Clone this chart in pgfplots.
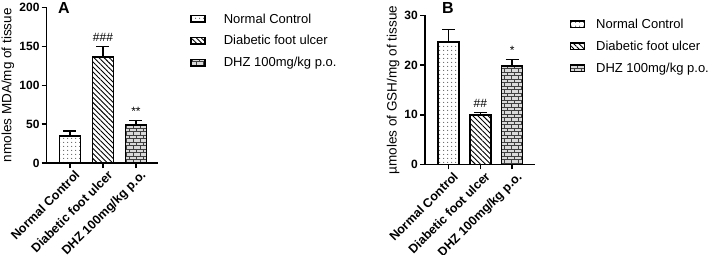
\documentclass[border=0pt]{standalone}
\usepackage{fontspec}
\setmainfont{Liberation Sans}
\usepackage{pgfplots}
\pgfplotsset{compat=1.18}
\usetikzlibrary{patterns,patterns.meta}

\pgfdeclarepatternformonly{smallbricks}{\pgfqpoint{-1pt}{-1pt}}{\pgfqpoint{8pt}{8pt}}{\pgfqpoint{7pt}{7pt}}{%
  \pgfsetlinewidth{0.9pt}%
  \pgfpathmoveto{\pgfqpoint{0pt}{0pt}}\pgfpathlineto{\pgfqpoint{7pt}{0pt}}%
  \pgfpathmoveto{\pgfqpoint{0pt}{3.5pt}}\pgfpathlineto{\pgfqpoint{7pt}{3.5pt}}%
  \pgfpathmoveto{\pgfqpoint{0pt}{0pt}}\pgfpathlineto{\pgfqpoint{0pt}{3.5pt}}%
  \pgfpathmoveto{\pgfqpoint{3.5pt}{3.5pt}}\pgfpathlineto{\pgfqpoint{3.5pt}{7pt}}%
  \pgfusepath{stroke}}

\pgfplotsset{
  common/.style={
    scale only axis,
    axis x line=bottom, axis y line=left,
    axis line style={line width=1.6pt,-},
    every tick/.style={line width=1.4pt,black},
    major tick length=5pt, tick align=outside,
    xtick={0,1,2},
    xticklabels={Normal Control,Diabetic foot ulcer,DHZ 100mg/kg p.o.},
    xticklabel style={xshift=4pt,yshift=0pt,rotate=45,anchor=north east,font=\bfseries\fontsize{12.5}{14}\selectfont,inner sep=1pt},
    yticklabel style={font=\bfseries\fontsize{12}{14}\selectfont,inner sep=2pt},
    /pgf/number format/assume math mode=true,
    ymin=0, clip=false,
    ybar, bar width=21pt,
    legend style={draw=none,fill=none,font=\fontsize{13}{15}\selectfont,anchor=north west,
      legend cell align=left,row sep=7pt,inner sep=0pt},
    legend image code/.code={\draw[##1,line width=1.3pt] (0pt,-3pt) rectangle (14pt,3.5pt);},
    error bars/y dir=plus, error bars/y explicit,
    error bars/error bar style={line width=1.3pt,black,solid},
    error bars/error mark options={rotate=90,line width=1.3pt,mark size=6.5pt,black},
    ylabel style={font=\fontsize{13.5}{15}\selectfont},
  },
  nc/.style={draw=black,line width=1.5pt,fill=white,bar shift=0pt,
    postaction={pattern={Dots[radius=0.6pt,distance=4pt]},pattern color=black!85}},
  dfu/.style={draw=black,line width=1.5pt,fill=white,bar shift=0pt,
    postaction={pattern={Lines[angle=-45,distance=3.6pt,line width=0.9pt]},pattern color=black}},
  dhz/.style={draw=black,line width=1.5pt,fill=gray!30,bar shift=0pt,
    postaction={pattern=smallbricks,pattern color=black!75}},
}

\begin{document}
\begin{tikzpicture}[x=1pt,y=1pt]
\useasboundingbox (0,0) rectangle (708,254);

% Panel A
\begin{axis}[common,
  at={(46.7pt,91pt)}, anchor=south west,
  width=111.3pt, height=155.5pt,
  xmin=-0.706, xmax=2.667, ymax=200,
  ytick={0,50,100,150,200},
  ylabel={nmoles MDA/mg of tissue},
  ylabel style={at={(axis description cs:-0.348,0.5)},anchor=center},
  legend style={at={(axis description cs:1.29,0.975)},
    /tikz/every odd column/.append style={column sep=16pt}},
]
\addplot[nc] coordinates {(0,34.7) +- (0,6.3)};
\addplot[dfu] coordinates {(1,136.5) +- (0,13.3)};
\addplot[dhz] coordinates {(2,48.9) +- (0,5.5)};
\legend{Normal Control,Diabetic foot ulcer,DHZ 100mg/kg p.o.}
\node[font=\fontsize{12}{14}\selectfont,anchor=south] at (axis cs:1,152) {\#\#\#};
\node[font=\fontsize{12}{14}\selectfont,anchor=south] at (axis cs:2,57) {**};
\node[font=\bfseries\fontsize{16}{18}\selectfont] at (axis description cs:0.155,0.995) {A};
\end{axis}

% Panel B
\begin{axis}[common,
  at={(425pt,89.5pt)}, anchor=south west,
  width=110pt, height=149pt,
  xmin=-0.74, xmax=2.72, ymax=30,
  ytick={0,10,20,30},
  ylabel={µmoles of GSH/mg of tissue},
  ylabel style={at={(axis description cs:-0.29,0.5)},anchor=center},
  legend style={at={(axis description cs:1.315,0.99)},
    /tikz/every odd column/.append style={column sep=9pt}},
]
\addplot[nc] coordinates {(0,24.7) +- (0,2.5)};
\addplot[dfu] coordinates {(1,10.0) +- (0,0.45)};
\addplot[dhz] coordinates {(2,19.8) +- (0,1.35)};
\legend{Normal Control,Diabetic foot ulcer,DHZ 100mg/kg p.o.}
\node[font=\fontsize{12}{14}\selectfont,anchor=south] at (axis cs:1,10.7) {\#\#};
\node[font=\fontsize{12}{14}\selectfont,anchor=south] at (axis cs:2,21.4) {*};
\node[font=\bfseries\fontsize{16}{18}\selectfont] at (axis description cs:0.209,1.05) {B};
\end{axis}
\end{tikzpicture}
\end{document}
